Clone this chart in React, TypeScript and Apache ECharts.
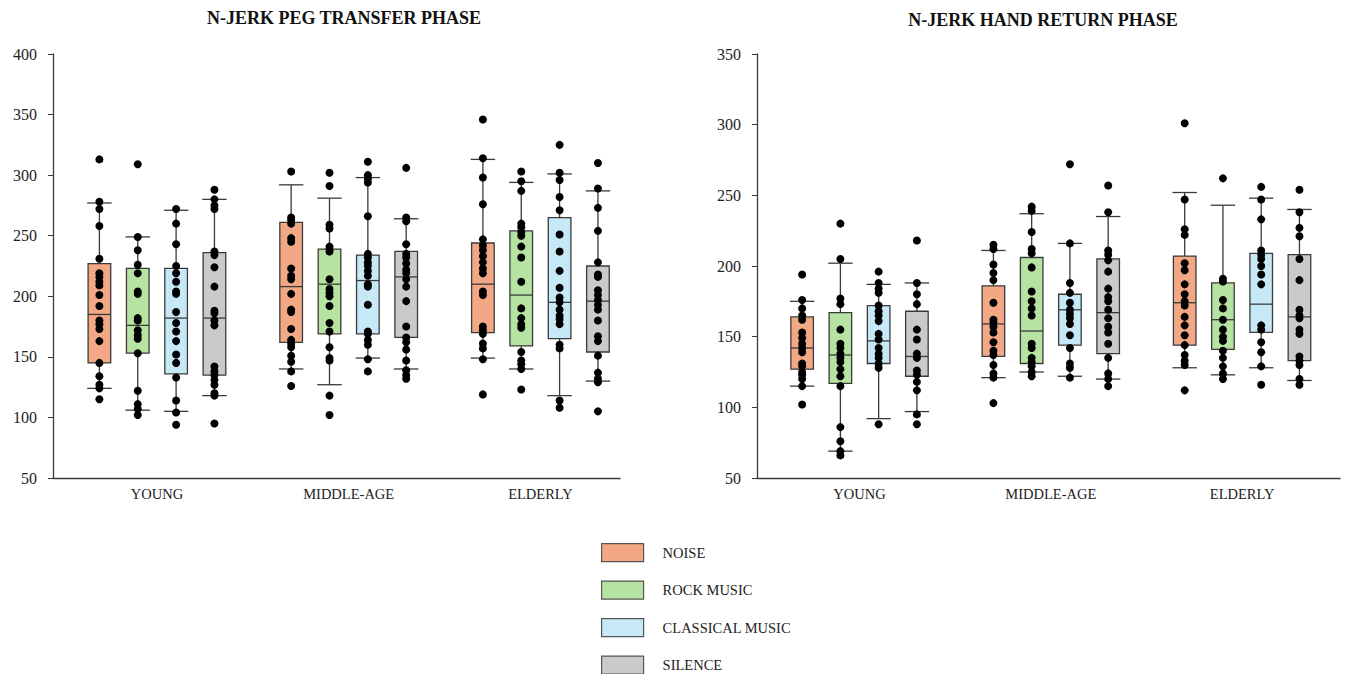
import React, { useEffect, useRef } from "react";
import * as echarts from "echarts";

const groups = ["YOUNG", "MIDDLE-AGE", "ELDERLY"];
const conditions = ["NOISE", "ROCK MUSIC", "CLASSICAL MUSIC", "SILENCE"];
const fills = ["#F3A885", "#B7E3A2", "#C7E8F7", "#CACACA"];
const titles = ["N-JERK PEG TRANSFER PHASE", "N-JERK HAND RETURN PHASE"];
const pegTicks = [50, 400, 50];
const handTicks = [50, 350, 50];

// ---- PEG TRANSFER: box stats [whiskerLow, q1, median, q3, whiskerHigh] per group ----
const pegNoiseBox = [[124, 145, 185, 227, 277], [140, 162, 208, 261, 292], [149, 170, 210, 244, 313]];
const pegRockBox = [[106, 153, 176, 223, 249], [127, 169, 210, 239, 281], [140, 159, 201, 254, 294]];
const pegClassicalBox = [[105, 136, 182, 223, 271], [149, 169, 213, 234, 298], [118, 165, 195, 265, 301]];
const pegSilenceBox = [[118, 135, 182, 236, 280], [140, 166, 216, 237, 264], [130, 154, 196, 225, 287]];

// ---- PEG TRANSFER: individual points ----
const pegYoungNoise = [313, 278, 272, 258, 231, 219, 216, 212, 209, 201, 192, 180, 177, 173, 163, 145, 134, 127, 124, 115];
const pegYoungRock = [309, 249, 238, 226, 219, 204, 202, 182, 180, 172, 168, 165, 153, 122, 111, 107, 102];
const pegYoungClassical = [272, 260, 243, 225, 219, 212, 204, 202, 187, 178, 171, 163, 152, 145, 133, 114, 104, 94];
const pegYoungSilence = [288, 280, 275, 272, 237, 234, 224, 208, 188, 186, 180, 176, 142, 138, 135, 131, 127, 120, 118, 95];
const pegMiddleNoise = [303, 265, 263, 260, 248, 245, 223, 217, 214, 202, 189, 187, 173, 164, 161, 158, 151, 146, 138, 126];
const pegMiddleRock = [302, 291, 259, 256, 241, 239, 237, 214, 206, 203, 200, 192, 178, 171, 158, 149, 147, 118, 102];
const pegMiddleClassical = [311, 300, 297, 294, 266, 235, 232, 228, 225, 221, 217, 210, 208, 193, 171, 169, 164, 160, 148, 138];
const pegMiddleSilence = [306, 265, 262, 243, 235, 232, 227, 222, 219, 214, 208, 196, 175, 166, 162, 156, 147, 139, 135, 132];
const pegElderlyNoise = [346, 314, 298, 276, 247, 242, 238, 233, 228, 223, 219, 204, 201, 175, 172, 169, 161, 157, 148, 119];
const pegElderlyRock = [303, 295, 287, 260, 257, 253, 250, 241, 232, 212, 190, 182, 177, 174, 154, 147, 144, 140, 123];
const pegElderlyClassical = [325, 302, 296, 282, 271, 251, 237, 221, 207, 199, 195, 189, 184, 181, 177, 160, 157, 114, 108];
const pegElderlySilence = [310, 289, 273, 254, 228, 218, 216, 205, 201, 197, 193, 189, 180, 167, 163, 151, 137, 132, 129, 105];

// ---- HAND RETURN: box stats ----
const handNoiseBox = [[115, 127, 142, 164, 175], [121, 136, 159, 186, 211], [128, 144, 174, 207, 252]];
const handRockBox = [[69, 117, 137, 167, 202], [125, 131, 154, 206, 237], [123, 141, 162, 188, 243]];
const handClassicalBox = [[92, 131, 147, 172, 187], [122, 144, 169, 180, 216], [128, 153, 173, 209, 248]];
const handSilenceBox = [[97, 122, 136, 168, 188], [120, 138, 167, 205, 235], [119, 133, 164, 208, 240]];

// ---- HAND RETURN: individual points ----
const handYoungNoise = [194, 176, 170, 165, 162, 153, 149, 145, 142, 139, 131, 129, 125, 123, 120, 115, 102];
const handYoungRock = [230, 205, 177, 173, 155, 145, 142, 138, 135, 132, 127, 122, 115, 86, 76, 69, 66];
const handYoungClassical = [196, 188, 184, 181, 172, 168, 165, 161, 152, 148, 142, 138, 135, 131, 128, 88];
const handYoungSilence = [218, 188, 180, 173, 155, 148, 138, 135, 126, 123, 118, 112, 95, 88];
const handMiddleNoise = [215, 212, 201, 195, 190, 174, 162, 160, 157, 153, 146, 140, 137, 130, 124, 121, 103];
const handMiddleRock = [242, 239, 224, 212, 209, 199, 182, 175, 170, 165, 145, 142, 135, 132, 129, 125, 122];
const handMiddleClassical = [272, 216, 188, 181, 174, 169, 166, 163, 159, 151, 142, 131, 128, 121];
const handMiddleSilence = [257, 238, 211, 208, 204, 196, 184, 178, 175, 169, 163, 157, 153, 145, 135, 124, 120, 115];
const handElderlyNoise = [301, 247, 226, 222, 202, 197, 187, 180, 175, 172, 164, 158, 151, 144, 137, 133, 130, 112];
const handElderlyRock = [262, 191, 189, 176, 170, 162, 155, 150, 147, 140, 135, 129, 124, 120];
const handElderlyClassical = [256, 247, 233, 211, 208, 205, 200, 194, 187, 158, 155, 146, 139, 129, 116];
const handElderlySilence = [254, 238, 227, 221, 205, 190, 169, 165, 163, 155, 152, 136, 133, 130, 120, 116];

const pegBoxes = [pegNoiseBox, pegRockBox, pegClassicalBox, pegSilenceBox];
const pegPoints = [
  [pegYoungNoise, pegMiddleNoise, pegElderlyNoise],
  [pegYoungRock, pegMiddleRock, pegElderlyRock],
  [pegYoungClassical, pegMiddleClassical, pegElderlyClassical],
  [pegYoungSilence, pegMiddleSilence, pegElderlySilence],
];
const handBoxes = [handNoiseBox, handRockBox, handClassicalBox, handSilenceBox];
const handPoints = [
  [handYoungNoise, handMiddleNoise, handElderlyNoise],
  [handYoungRock, handMiddleRock, handElderlyRock],
  [handYoungClassical, handMiddleClassical, handElderlyClassical],
  [handYoungSilence, handMiddleSilence, handElderlySilence],
];

// layout constants
const FONT = "'Liberation Serif', 'Times New Roman', serif";
const EDGE = "#3a3a3a";
const OFFSETS = [-0.3, -0.1, 0.1, 0.3];
const BOX_W = 0.118;

const makeRender = (fill: string) => (params: any, api: any) => {
  const x = api.value(0);
  const lo = api.coord([x, api.value(1)]);
  const q1 = api.coord([x, api.value(2)]);
  const med = api.coord([x, api.value(3)]);
  const q3 = api.coord([x, api.value(4)]);
  const hi = api.coord([x, api.value(5)]);
  const w = api.size([BOX_W, 0])[0];
  const cw = w * 1.08;
  const cx = lo[0];
  const ls = { stroke: EDGE, lineWidth: 1.3 };
  return {
    type: "group",
    children: [
      { type: "line", shape: { x1: cx, y1: hi[1], x2: cx, y2: lo[1] }, style: ls },
      { type: "line", shape: { x1: cx - cw / 2, y1: hi[1], x2: cx + cw / 2, y2: hi[1] }, style: ls },
      { type: "line", shape: { x1: cx - cw / 2, y1: lo[1], x2: cx + cw / 2, y2: lo[1] }, style: ls },
      {
        type: "rect",
        shape: { x: cx - w / 2, y: q3[1], width: w, height: q1[1] - q3[1] },
        style: { fill, stroke: EDGE, lineWidth: 1.3 },
      },
      { type: "line", shape: { x1: cx - w / 2, y1: med[1], x2: cx + w / 2, y2: med[1] }, style: ls },
    ],
  };
};

function buildSeries(idx: number, boxes: number[][][], points: number[][][]) {
  const out: any[] = [];
  conditions.forEach((c, ci) => {
    out.push({
      type: "custom",
      name: c,
      xAxisIndex: idx,
      yAxisIndex: idx,
      itemStyle: { color: fills[ci] },
      renderItem: makeRender(fills[ci]),
      encode: { x: 0, y: [1, 2, 3, 4, 5] },
      data: boxes[ci].map((b, gi) => [gi + OFFSETS[ci], ...b]),
      z: 2,
    });
  });
  conditions.forEach((c, ci) => {
    const data: number[][] = [];
    points[ci].forEach((arr, gi) => arr.forEach((v) => data.push([gi + OFFSETS[ci], v])));
    out.push({
      type: "scatter",
      name: c + " points",
      xAxisIndex: idx,
      yAxisIndex: idx,
      symbol: "circle",
      symbolSize: 8,
      itemStyle: { color: "#000", opacity: 1 },
      data,
      z: 5,
    });
  });
  return out;
}

const yAxisCommon = (ticks: number[], gridIndex: number) => ({
  type: "value",
  gridIndex,
  min: ticks[0],
  max: ticks[1],
  interval: ticks[2],
  axisLine: { show: true, onZero: false, lineStyle: { color: EDGE, width: 1.3 } },
  axisTick: { show: true, length: 5, lineStyle: { color: EDGE } },
  splitLine: { show: false },
  axisLabel: { fontFamily: FONT, fontSize: 16, color: "#222", margin: 16 },
});

const xAxisCommon = (gridIndex: number, min: number, max: number) => ({
  type: "value",
  gridIndex,
  min,
  max,
  axisLine: { show: true, onZero: false, lineStyle: { color: EDGE, width: 1.3 } },
  axisTick: { show: false },
  splitLine: { show: false },
  axisLabel: {
    customValues: [0, 1, 2],
    formatter: (v: number) => groups[Math.round(v)] ?? "",
    fontFamily: FONT,
    fontSize: 14.5,
    color: "#222",
    margin: 8,
  },
});

export default function App() {
  const ref = useRef<HTMLDivElement>(null);
  useEffect(() => {
    if (!ref.current) return;
    const chart = echarts.init(ref.current, null, { renderer: "svg" });
    chart.setOption({
      animation: false,
      backgroundColor: "#fff",
      title: [
        {
          text: titles[0],
          left: 339,
          top: 4,
          textAlign: "center",
          textStyle: { fontFamily: FONT, fontSize: 18, fontWeight: "bold", color: "#111" },
        },
        {
          text: titles[1],
          left: 1038,
          top: 6,
          textAlign: "center",
          textStyle: { fontFamily: FONT, fontSize: 18, fontWeight: "bold", color: "#111" },
        },
      ],
      legend: {
        orient: "vertical",
        left: 601,
        top: 543,
        height: 160,
        padding: 0,
        itemWidth: 42,
        itemHeight: 18,
        itemGap: 18.3,
        data: conditions.map((c, i) => ({
          name: c,
          icon: "rect",
          itemStyle: { color: fills[i], borderColor: "#555", borderWidth: 1.2 },
        })),
        textStyle: { fontFamily: FONT, fontSize: 14.5, color: "#222", padding: [0, 0, 0, 14] },
        selectedMode: false,
      },
      grid: [
        { left: 53, top: 54, width: 567, height: 424 },
        { left: 757, top: 54, right: 6, height: 424 },
      ],
      xAxis: [xAxisCommon(0, -0.542, 2.415), xAxisCommon(1, -0.536, 2.512)],
      yAxis: [yAxisCommon(pegTicks, 0), yAxisCommon(handTicks, 1)],
      series: [...buildSeries(0, pegBoxes, pegPoints), ...buildSeries(1, handBoxes, handPoints)],
    });
    return () => chart.dispose();
  }, []);
  return (
    <div
      ref={ref}
      style={{ position: "absolute", left: 0, top: 0, width: 1346, height: 674 }}
    />
  );
}
